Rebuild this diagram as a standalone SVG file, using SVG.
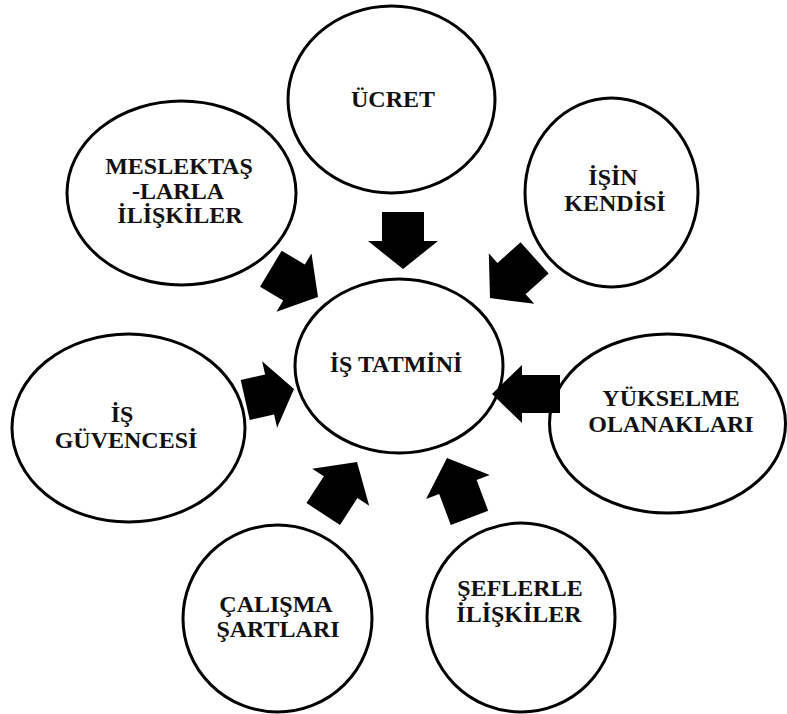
<svg xmlns="http://www.w3.org/2000/svg" width="787" height="714" viewBox="0 0 787 714">
<style>
.node ellipse{fill:#fff;stroke:#000;stroke-width:3}
.node text{font-family:"Liberation Serif","Times New Roman",serif;font-weight:bold;font-size:24px;fill:#111;text-anchor:middle}
.arrows polygon{fill:#000}
</style>
<rect width="787" height="714" fill="#fff"/>
<g id="n-ucret" class="node"><ellipse cx="391.5" cy="99.5" rx="103.5" ry="93.5"/><text x="393" y="107">ÜCRET</text></g>
<g id="n-meslektas" class="node"><ellipse cx="181.5" cy="193" rx="114.5" ry="92"/><text x="179" y="174">MESLEKTAŞ</text><text x="178" y="199">-LARLA</text><text x="180" y="223">İLİŞKİLER</text></g>
<g id="n-isin" class="node"><ellipse cx="611.5" cy="192.5" rx="86.5" ry="94.5"/><text x="613" y="185">İŞİN</text><text x="615" y="211">KENDİSİ</text></g>
<g id="n-yukselme" class="node"><ellipse cx="667.5" cy="423.5" rx="118" ry="89.5"/><text x="671" y="406">YÜKSELME</text><text x="671" y="432">OLANAKLARI</text></g>
<g id="n-guvence" class="node"><ellipse cx="128.5" cy="428" rx="116.5" ry="94"/><text x="122" y="422">İŞ</text><text x="126" y="448">GÜVENCESİ</text></g>
<g id="n-calisma" class="node"><ellipse cx="277.5" cy="618.5" rx="94.5" ry="93.5"/><text x="276" y="612">ÇALIŞMA</text><text x="278" y="637">ŞARTLARI</text></g>
<g id="n-sefler" class="node"><ellipse cx="521" cy="617.5" rx="94" ry="94.5"/><text x="520" y="596">ŞEFLERLE</text><text x="519" y="622">İLİŞKİLER</text></g>
<g id="n-tatmin" class="node"><ellipse cx="399" cy="366" rx="104" ry="87"/><text x="396" y="372">İŞ TATMİNİ</text></g>
<g id="connectors" class="arrows">
<polygon transform="translate(403,269) rotate(90)" points="-57,-21 -28,-21 -28,-35 0,0 -28,35 -28,21 -57,21"/>
<polygon transform="translate(318,297) rotate(31)" points="-55,-21 -28,-21 -28,-34 0,0 -28,34 -28,21 -55,21"/>
<polygon transform="translate(490,298) rotate(138)" points="-60,-21 -29,-21 -29,-34 0,0 -29,34 -29,21 -60,21"/>
<polygon transform="translate(294,389) rotate(-12.7)" points="-50,-20.5 -25,-20.5 -25,-34 0,0 -25,34 -25,20.5 -50,20.5"/>
<polygon transform="translate(492,394) rotate(180)" points="-68,-19 -30,-19 -30,-29 0,0 -30,29 -30,19 -68,19"/>
<polygon transform="translate(357,462) rotate(-57)" points="-62,-20 -30,-20 -30,-34 0,0 -30,34 -30,20 -62,20"/>
<polygon transform="translate(447,458) rotate(-110.6)" points="-64,-20 -31,-20 -31,-34 0,0 -31,34 -31,20 -64,20"/>
</g>
</svg>
